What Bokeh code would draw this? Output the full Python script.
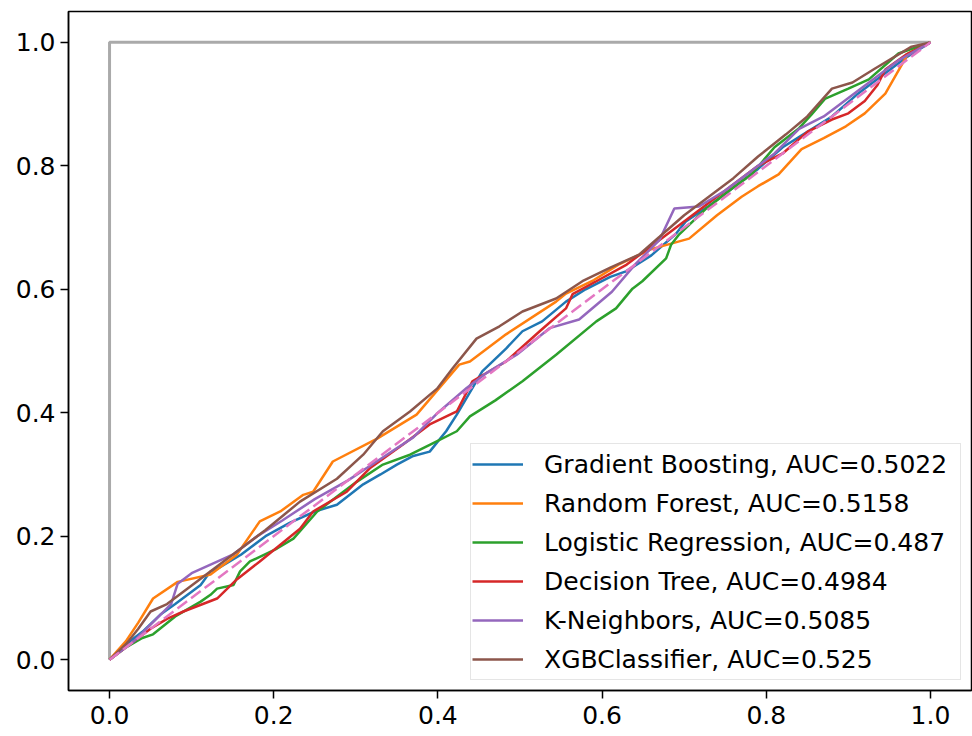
from bokeh.plotting import figure
from bokeh.models import FixedTicker, Legend, LegendItem, Range1d
from bokeh.embed import file_html
from bokeh.resources import INLINE

# ---- data ----
names = ["Gradient Boosting, AUC=0.5022", "Random Forest, AUC=0.5158",
         "Logistic Regression, AUC=0.487", "Decision Tree, AUC=0.4984",
         "K-Neighbors, AUC=0.5085", "XGBClassifier, AUC=0.525"]
colors = ["#1f77b4", "#ff7f0e", "#2ca02c", "#d62728", "#9467bd", "#8c564b"]

gb_fpr = [0, 0.02, 0.04, 0.062, 0.08, 0.111, 0.123, 0.131, 0.16, 0.19, 0.22, 0.25, 0.277, 0.309, 0.33,
          0.35, 0.37, 0.39, 0.41, 0.423, 0.454, 0.483, 0.503, 0.527, 0.556, 0.58, 0.61, 0.629, 0.66,
          0.69, 0.702, 0.73, 0.76, 0.79, 0.82, 0.85, 0.88, 0.91, 0.94, 0.97, 1.0]
gb_tpr = [0, 0.025, 0.045, 0.073, 0.09, 0.121, 0.143, 0.147, 0.17, 0.2, 0.222, 0.24, 0.251, 0.284, 0.30,
          0.316, 0.33, 0.337, 0.37, 0.397, 0.467, 0.504, 0.532, 0.548, 0.58, 0.60, 0.62, 0.629, 0.655,
          0.69, 0.71, 0.735, 0.765, 0.795, 0.83, 0.855, 0.88, 0.915, 0.945, 0.975, 1.0]

rf_fpr = [0, 0.02, 0.035, 0.053, 0.083, 0.123, 0.155, 0.183, 0.208, 0.236, 0.248, 0.272, 0.326, 0.374,
          0.426, 0.439, 0.483, 0.544, 0.556, 0.59, 0.62, 0.66, 0.706, 0.74, 0.77, 0.79, 0.815, 0.843,
          0.87, 0.897, 0.92, 0.945, 0.973, 1.0]
rf_tpr = [0, 0.03, 0.06, 0.099, 0.126, 0.138, 0.17, 0.224, 0.24, 0.267, 0.272, 0.321, 0.358, 0.397,
          0.478, 0.483, 0.527, 0.58, 0.593, 0.615, 0.64, 0.665, 0.682, 0.72, 0.75, 0.767, 0.786, 0.827,
          0.845, 0.864, 0.885, 0.917, 0.982, 1.0]

lr_fpr = [0, 0.02, 0.04, 0.053, 0.08, 0.111, 0.123, 0.131, 0.151, 0.159, 0.171, 0.204, 0.224, 0.253,
          0.301, 0.333, 0.366, 0.39, 0.423, 0.439, 0.47, 0.503, 0.544, 0.593, 0.617, 0.637, 0.649,
          0.678, 0.684, 0.694, 0.727, 0.76, 0.782, 0.81, 0.84, 0.855, 0.872, 0.9, 0.925, 0.961, 1.0]
lr_tpr = [0, 0.02, 0.035, 0.041, 0.07, 0.094, 0.105, 0.115, 0.121, 0.143, 0.159, 0.18, 0.196, 0.24,
          0.288, 0.316, 0.332, 0.348, 0.37, 0.394, 0.42, 0.451, 0.494, 0.548, 0.569, 0.601, 0.613,
          0.65, 0.672, 0.689, 0.731, 0.765, 0.786, 0.83, 0.861, 0.883, 0.909, 0.925, 0.94, 0.982, 1.0]

dt_fpr = [0, 0.03, 0.05, 0.07, 0.09, 0.131, 0.155, 0.183, 0.232, 0.248, 0.289, 0.317, 0.357, 0.39,
          0.423, 0.442, 0.483, 0.524, 0.556, 0.564, 0.593, 0.63, 0.67, 0.71, 0.75, 0.79, 0.82, 0.85,
          0.88, 0.9, 0.92, 0.935, 0.945, 0.97, 1.0]
dt_tpr = [0, 0.03, 0.05, 0.066, 0.078, 0.099, 0.13, 0.159, 0.212, 0.24, 0.272, 0.31, 0.348, 0.381,
          0.402, 0.451, 0.483, 0.532, 0.569, 0.592, 0.613, 0.64, 0.68, 0.72, 0.76, 0.80, 0.82, 0.855,
          0.875, 0.885, 0.905, 0.93, 0.956, 0.98, 1.0]

kn_fpr = [0, 0.03, 0.06, 0.075, 0.083, 0.1, 0.123, 0.15, 0.18, 0.21, 0.25, 0.29, 0.33, 0.37, 0.40,
          0.435, 0.46, 0.496, 0.536, 0.572, 0.612, 0.64, 0.67, 0.688, 0.718, 0.75, 0.78, 0.81, 0.84,
          0.87, 0.9, 0.93, 0.96, 1.0]
kn_tpr = [0, 0.03, 0.07, 0.09, 0.123, 0.14, 0.154, 0.17, 0.2, 0.225, 0.26, 0.29, 0.325, 0.36, 0.40,
          0.44, 0.465, 0.494, 0.537, 0.551, 0.596, 0.64, 0.68, 0.731, 0.734, 0.76, 0.79, 0.82, 0.86,
          0.88, 0.91, 0.94, 0.97, 1.0]

xgb_fpr = [0, 0.02, 0.035, 0.05, 0.07, 0.1, 0.13, 0.16, 0.19, 0.232, 0.277, 0.309, 0.333, 0.366,
           0.399, 0.418, 0.447, 0.475, 0.503, 0.544, 0.576, 0.61, 0.645, 0.67, 0.7, 0.73, 0.76, 0.79,
           0.824, 0.85, 0.88, 0.905, 0.933, 0.977, 1.0]
xgb_tpr = [0, 0.025, 0.05, 0.078, 0.09, 0.12, 0.15, 0.18, 0.21, 0.256, 0.293, 0.332, 0.37, 0.402,
           0.439, 0.472, 0.52, 0.54, 0.564, 0.585, 0.613, 0.635, 0.656, 0.685, 0.72, 0.75, 0.78, 0.815,
           0.851, 0.88, 0.925, 0.935, 0.958, 0.993, 1.0]

perfect_x = [0, 0, 1]
perfect_y = [0, 1, 1]
chance_x = [0, 1]
chance_y = [0, 1]

ticks = [0.0, 0.2, 0.4, 0.6, 0.8, 1.0]
tick_labels = ["0.0", "0.2", "0.4", "0.6", "0.8", "1.0"]

curves = [(gb_fpr, gb_tpr), (rf_fpr, rf_tpr), (lr_fpr, lr_tpr),
          (dt_fpr, dt_tpr), (kn_fpr, kn_tpr), (xgb_fpr, xgb_tpr)]

FONT = "DejaVu Sans"
FS = "25px"

p = figure(width=972, height=736, output_backend="svg", toolbar_location=None,
           x_range=Range1d(-0.05, 1.05), y_range=Range1d(-0.05, 1.05),
           min_border_left=68, min_border_right=1, min_border_top=11, min_border_bottom=46)
p.grid.visible = False
p.outline_line_color = "black"
p.outline_line_width = 1.5
p.background_fill_color = "white"
p.border_fill_color = "white"

for ax in (p.xaxis, p.yaxis):
    ax.ticker = FixedTicker(ticks=ticks)
    ax.major_label_overrides = {t: l for t, l in zip(ticks, tick_labels)}
    ax.major_label_text_font = FONT
    ax.major_label_text_font_size = FS
    ax.major_label_text_color = "black"
    ax.major_tick_out = 8
    ax.major_tick_in = 0
    ax.minor_tick_out = 0
    ax.minor_tick_in = 0
    ax.axis_line_width = 1.5
    ax.major_tick_line_width = 1.5
    ax.major_label_standoff = 5
p.xaxis.major_label_standoff = 7

p.line(perfect_x, perfect_y, line_color="#aaaaaa", line_width=3)

items = []
for (fx, ty), c, n in zip(curves, colors, names):
    r = p.line(fx, ty, line_color=c, line_width=2.5)
    items.append(LegendItem(label=n, renderers=[r]))

p.line(chance_x, chance_y, line_color="#e377c2", line_width=2.5, line_dash="12 5")

legend = Legend(items=items, location="bottom_right", margin=10,
                label_text_font=FONT, label_text_font_size=FS, label_text_color="black",
                glyph_width=51, glyph_height=38, label_height=38, label_standoff=21,
                label_width=415, padding=1, spacing=1,
                border_line_color="#cccccc", border_line_width=1.5,
                background_fill_color="white", background_fill_alpha=0.8)
p.add_layout(legend)

open("out.html", "w").write(file_html(p, INLINE))
